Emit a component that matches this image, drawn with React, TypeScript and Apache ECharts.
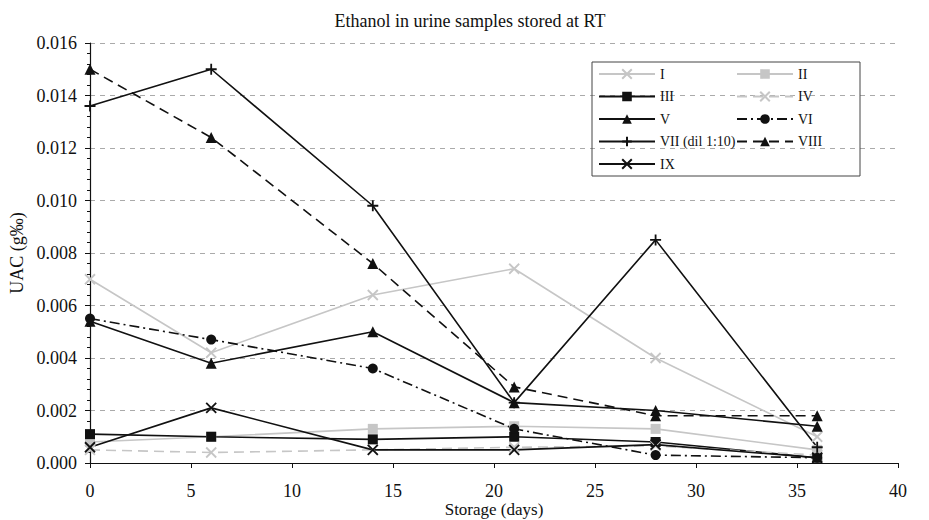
import React, { useEffect, useRef } from "react";
import * as echarts from "echarts";

const days = [0, 6, 14, 21, 28, 36];
const seriesNames = ["I", "II", "III", "IV", "V", "VI", "VII (dil 1:10)", "VIII", "IX"];
const sI = [0.0070, 0.0042, 0.0064, 0.0074, 0.0040, 0.0010];
const sII = [0.0008, 0.0010, 0.0013, 0.0014, 0.0013, 0.0005];
const sIII = [0.0011, 0.0010, 0.0009, 0.0010, 0.0008, 0.0002];
const sIV = [0.0005, 0.0004, 0.0005, 0.0006, 0.00065, 0.0003];
const sV = [0.0054, 0.0038, 0.0050, 0.0023, 0.0020, 0.0014];
const sVI = [0.0055, 0.0047, 0.0036, 0.0013, 0.0003, 0.0002];
const sVII = [0.0136, 0.0150, 0.0098, 0.0023, 0.0085, 0.0006];
const sVIII = [0.0150, 0.0124, 0.0076, 0.0029, 0.0018, 0.0018];
const sIX = [0.0006, 0.0021, 0.0005, 0.0005, 0.0007, 0.0002];
const yTicks = ["0.000", "0.002", "0.004", "0.006", "0.008", "0.010", "0.012", "0.014", "0.016"];

const BLACK = "#111111";
const GRAY = "#c6c6c6";
const X_SYM = "path://M0,0L10,10M10,0L0,10";
const PLUS_SYM = "path://M5,0L5,10M0,5L10,5";
const FONT = "Liberation Serif";

function mk(name: string, vals: number[], color: string, symbol: string, size: number, lineType: any, stroked: boolean) {
  return {
    name,
    type: "line",
    data: days.map((d, i) => [d, vals[i]]),
    symbol,
    symbolSize: size,
    showAllSymbol: true,
    lineStyle: { color, width: 1.6, type: lineType },
    itemStyle: stroked
      ? { color: "rgba(0,0,0,0)", borderColor: color, borderWidth: 1.8 }
      : { color, borderColor: color, borderWidth: 0 },
    emphasis: { disabled: true },
  };
}

export default function App() {
  const ref = useRef<HTMLDivElement>(null);
  useEffect(() => {
    if (!ref.current) return;
    const chart = echarts.init(ref.current, null, { renderer: "svg" });
    const legendCommon = {
      orient: "vertical",
      itemWidth: 56,
      itemHeight: 12,
      itemGap: 8.5,
      padding: 0,
      textStyle: { fontFamily: FONT, fontSize: 14, color: "#111" },
      selectedMode: false,
    };
    chart.setOption({
      animation: false,
      title: {
        text: "Ethanol in urine samples stored at RT",
        left: 465,
        textAlign: "center",
        top: 7,
        textStyle: { fontFamily: FONT, fontSize: 18, fontWeight: "normal", color: "#111" },
      },
      grid: { left: 90, right: 31, top: 43, bottom: 57, outerBoundsMode: "none", containLabel: false },
      legend: [
        { ...legendCommon, data: ["I", "III", "V", "VII (dil 1:10)", "IX"], left: 598, top: 67 },
        { ...legendCommon, data: ["II", "IV", "VI", "VIII"], left: 736, top: 67 },
      ],
      graphic: [
        {
          type: "rect",
          shape: { x: 592, y: 62, width: 268, height: 114 },
          style: { fill: "none", stroke: "#444", lineWidth: 1 },
          z: 100,
        },
      ],
      xAxis: {
        type: "value",
        min: 0,
        max: 40,
        interval: 5,
        name: "Storage (days)",
        nameLocation: "middle",
        nameGap: 38,
        nameMoveOverlap: false,
        nameTextStyle: { fontFamily: FONT, fontSize: 17, lineHeight: 17, color: "#111" },
        axisLine: { lineStyle: { color: "#111", width: 1.2 } },
        axisTick: { show: true, length: 5, lineStyle: { color: "#111" } },
        axisLabel: { fontFamily: FONT, fontSize: 18, color: "#111", margin: 19 },
        splitLine: { show: false },
      },
      yAxis: {
        type: "value",
        min: 0,
        max: 0.016,
        interval: 0.002,
        name: "UAC (g‰)",
        nameLocation: "middle",
        nameGap: 64,
        nameMoveOverlap: false,
        nameTextStyle: { fontFamily: FONT, fontSize: 18, color: "#111" },
        axisLine: { show: true, lineStyle: { color: "#111", width: 1.2 } },
        axisTick: { show: true, length: 5, lineStyle: { color: "#111" } },
        minorTick: { show: true, splitNumber: 5, length: 3, lineStyle: { color: "#111" } },
        axisLabel: {
          fontFamily: FONT,
          fontSize: 18,
          color: "#111",
          margin: 13,
          formatter: (v: number) => yTicks[Math.round(v / 0.002)] ?? "",
        },
        splitLine: { show: true, lineStyle: { color: "#aaaaaa", type: [5, 5], width: 1 } },
      },
      series: [
        mk(seriesNames[0], sI, GRAY, X_SYM, 10, "solid", true),
        mk(seriesNames[1], sII, GRAY, "rect", 10, "solid", false),
        mk(seriesNames[2], sIII, BLACK, "rect", 10, "solid", false),
        mk(seriesNames[3], sIV, GRAY, X_SYM, 10, [10, 6], true),
        mk(seriesNames[4], sV, BLACK, "triangle", 11, "solid", false),
        mk(seriesNames[5], sVI, BLACK, "circle", 10, [10, 4, 2, 4], false),
        mk(seriesNames[6], sVII, BLACK, PLUS_SYM, 11, "solid", true),
        mk(seriesNames[7], sVIII, BLACK, "triangle", 11, [10, 6], false),
        mk(seriesNames[8], sIX, BLACK, X_SYM, 10, "solid", true),
      ],
    });
    return () => chart.dispose();
  }, []);
  return <div ref={ref} style={{ width: 929, height: 520, position: "absolute", left: 0, top: 0 }} />;
}
